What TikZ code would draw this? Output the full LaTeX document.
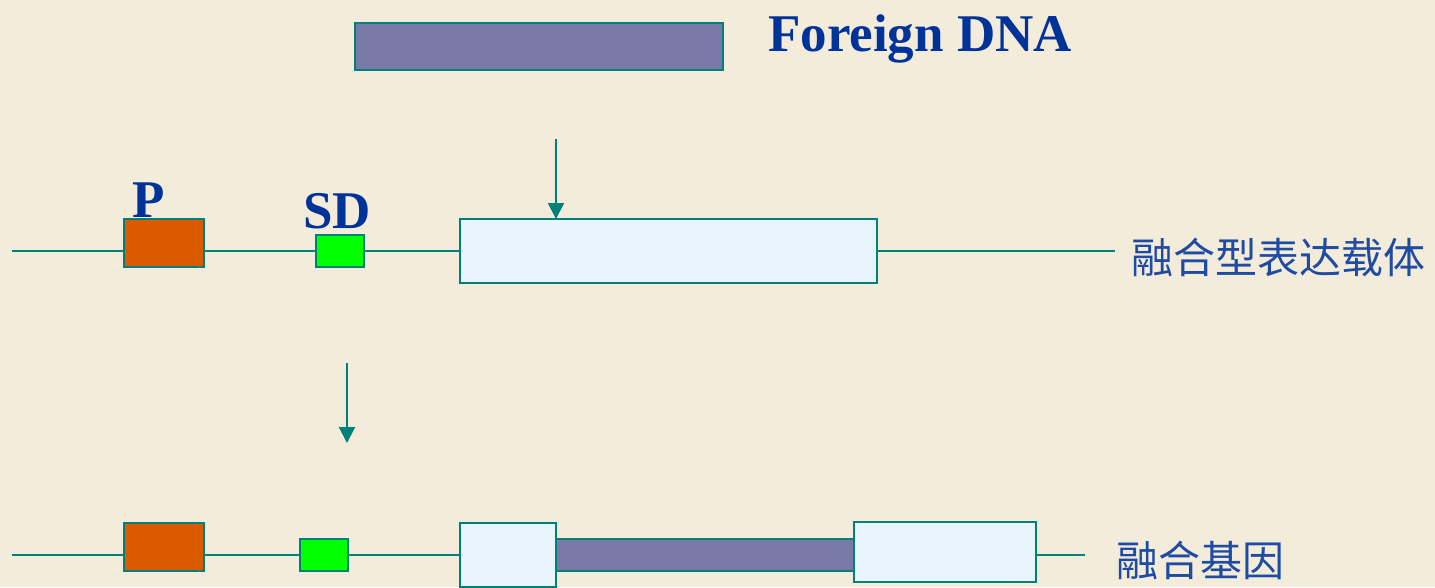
\documentclass[tikz,border=0pt]{standalone}
\usepackage{fontspec}
\setmainfont{Liberation Serif}
\newfontfamily\cjk{Noto Sans CJK SC}
\usetikzlibrary{arrows.meta}
\definecolor{bg}{HTML}{F4ECDA}
\definecolor{edge}{HTML}{00807A}
\definecolor{dna}{HTML}{7879A6}
\definecolor{prom}{HTML}{DA5A00}
\definecolor{sdg}{HTML}{00FF00}
\definecolor{vec}{HTML}{E8F5FC}
\definecolor{lbl}{HTML}{003399}
\definecolor{cn}{HTML}{1F4CA3}
\begin{document}
\begin{tikzpicture}[x=1pt,y=-1pt,
  box/.style={draw=edge,line width=2pt,inner sep=0pt,outer sep=0pt,anchor=north west},
  wire/.style={draw=edge,line width=2pt},
  arr/.style={draw=edge,line width=2pt,-{Triangle[width=16pt,length=16pt]}},
  big/.style={text=lbl,font=\bfseries\fontsize{53}{60}\selectfont,inner sep=0pt},
  cnlabel/.style={text=cn,font=\cjk\fontsize{42}{48}\selectfont,inner sep=0pt,anchor=base west}]
\fill[bg] (0,0) rectangle (1435,587);
\useasboundingbox (0,0) rectangle (1435,587);

% foreign DNA
\node[box,fill=dna,minimum width=368pt,minimum height=47pt] (fd) at (355,23) {};
\node[big,anchor=base west] (fdl) at (768,51) {Foreign DNA};

% vector (row 1)
\coordinate (l1s) at (12,251);
\coordinate (l1e) at (1115,251);
\draw[wire] (l1s) -- (l1e);
\node[box,fill=prom,minimum width=80pt,minimum height=48pt] (p1) at (124,219) {};
\node[box,fill=sdg,minimum width=48pt,minimum height=32pt] (sd1) at (316,235) {};
\node[box,fill=vec,minimum width=417pt,minimum height=64pt] (v1) at (460,219) {};
\node[big,anchor=base] (pl) at (149,217) {P};
\node[big,anchor=base] (sdl) at (337,228) {SD};
\node[cnlabel] (vl) at (1131,273) {融合型表达载体};

\coordinate (a1s) at (556,139);
\draw[arr] (a1s) -- (a1s |- v1.north);

\coordinate (a2s) at (347,363);
\coordinate (a2e) at (347,443);
\draw[arr] (a2s) -- (a2e);

% fusion gene (row 2)
\coordinate (l2s) at (12,555);
\coordinate (l2e) at (1085,555);
\draw[wire] (l2s) -- (l2e);
\node[box,fill=prom,minimum width=80pt,minimum height=48pt] (p2) at (124,523) {};
\node[box,fill=sdg,minimum width=48pt,minimum height=32pt] (sd2) at (300,539) {};
\node[box,fill=dna,minimum width=298pt,minimum height=32pt] (ins) at (556,539) {};
\node[box,fill=vec,minimum width=96pt,minimum height=64pt] (v2) at (460,523) {};
\node[box,fill=vec,minimum width=182pt,minimum height=60pt] (v3) at (854,522) {};
\node[cnlabel] (gl) at (1116,576) {融合基因};
\end{tikzpicture}
\end{document}
